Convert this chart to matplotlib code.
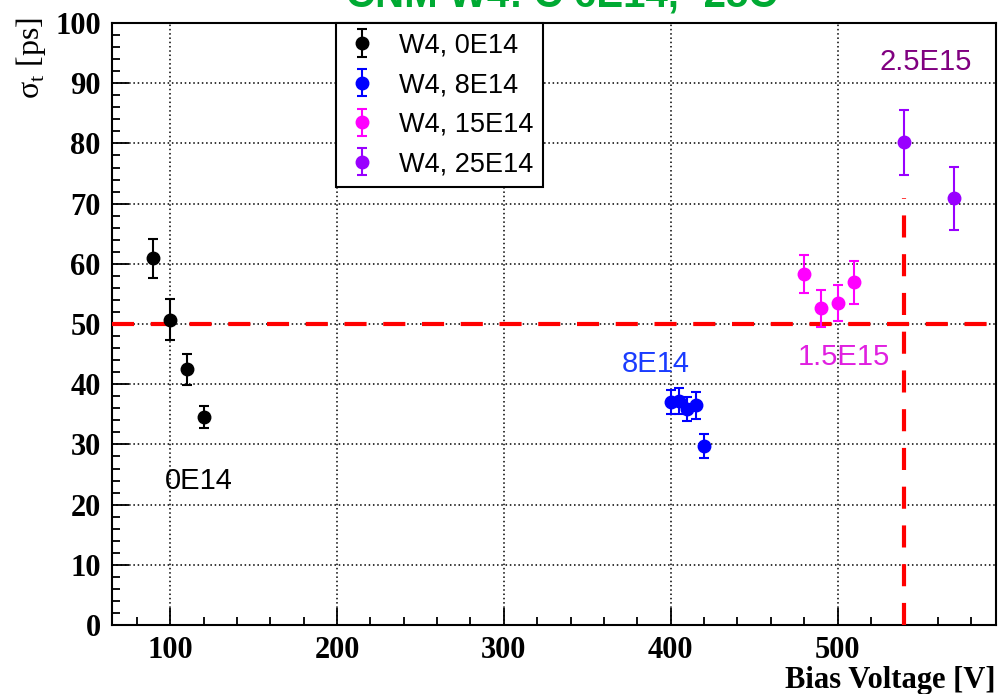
import matplotlib
matplotlib.use("Agg")
import matplotlib.pyplot as plt
from matplotlib.ticker import MultipleLocator

plt.rcParams["mathtext.fontset"] = "custom"
plt.rcParams["mathtext.rm"] = "Liberation Serif"

# Bias voltage scans, time resolution sigma_t with uncertainties
v_0e14 = [90, 100, 110, 120]
s_0e14 = [60.9, 50.7, 42.5, 34.6]
e_0e14 = [3.2, 3.4, 2.6, 1.8]

v_8e14 = [400, 405, 410, 415, 420]
s_8e14 = [37.0, 37.2, 35.9, 36.5, 29.7]
e_8e14 = [2.0, 2.1, 2.0, 2.2, 2.0]

v_15e14 = [480, 490, 500, 510]
s_15e14 = [58.3, 52.6, 53.5, 56.9]
e_15e14 = [3.1, 3.1, 3.0, 3.5]

v_25e14 = [540, 570]
s_25e14 = [80.2, 70.9]
e_25e14 = [5.4, 5.2]

series_labels = ["W4, 0E14", "W4, 8E14", "W4, 15E14", "W4, 25E14"]
series_colors = ["#000000", "#0000ff", "#ff00ff", "#9900ff"]

target_sigma = 50
max_voltage_25e14 = 540
max_voltage_line_top = 71

fig = plt.figure(figsize=(9.98, 6.94), dpi=100)
ax = fig.add_axes([0.112, 0.0994, 0.886, 0.8674])

ax.set_xlim(65, 595)
ax.set_ylim(0, 100)

# dotted grid at major ticks
ax.grid(True, which="major", color="black", linestyle=(0, (1, 1.8)), linewidth=1.1)
ax.set_axisbelow(True)

series = [
    (v_0e14, s_0e14, e_0e14),
    (v_8e14, s_8e14, e_8e14),
    (v_15e14, s_15e14, e_15e14),
    (v_25e14, s_25e14, e_25e14),
]
handles = []
for (v, s, e), lab, col in zip(series, series_labels, series_colors):
    h = ax.errorbar(v, s, yerr=e, fmt="o", color=col, ms=9, elinewidth=1.5,
                    capsize=3.5, capthick=1.5, label=lab, zorder=4)
    handles.append(h)

# reference lines
ax.axhline(target_sigma, color="#ff0000", lw=3, linestyle=(0, (5.3, 4.0)), zorder=3)
ax.plot([max_voltage_25e14, max_voltage_25e14], [0, max_voltage_line_top],
        color="#ff0000", lw=3, linestyle=(0, (5.3, 4.0)), zorder=3)

# fluence annotations
txt_kw = dict(family="Liberation Sans", fontsize=21)
ax.text(97, 24, "0E14", color="black", ha="left", va="center", **txt_kw)
ax.text(391, 43.3, "8E14", color="#1a3cff", ha="center", va="center", **txt_kw)
ax.text(504, 44.5, "1.5E15", color="#e020e0", ha="center", va="center", **txt_kw)
ax.text(553, 93.5, "2.5E15", color="#800080", ha="center", va="center", **txt_kw)

# axis styling
ax.xaxis.set_major_locator(MultipleLocator(100))
ax.xaxis.set_minor_locator(MultipleLocator(20))
ax.yaxis.set_major_locator(MultipleLocator(10))
ax.yaxis.set_minor_locator(MultipleLocator(2))
ax.tick_params(which="both", direction="in", top=False, right=False, width=1.3, colors="black")
ax.tick_params(which="major", length=12, pad=8)
ax.tick_params(which="minor", length=6)
for lab in ax.get_xticklabels() + ax.get_yticklabels():
    lab.set_family("Liberation Serif")
    lab.set_fontweight("bold")
    lab.set_fontsize(22)
for sp in ax.spines.values():
    sp.set_linewidth(1.5)

fig.text(0.997, 0.008, "Bias Voltage [V]", ha="right", va="baseline",
         family="Liberation Serif", fontweight="bold", fontsize=22)
fig.text(0.031, 0.975, r"σ$_{\mathrm{t}}$ [ps]", rotation=90, ha="center", va="top",
         family="Liberation Serif", fontsize=23)

fig.text(0.563, 0.990, "CNM W4: C 6E14, -25C", ha="center", va="baseline",
         family="Liberation Sans", fontweight="bold", fontsize=29, color="#00aa33")

leg = ax.legend(handles=handles, loc="upper left", bbox_to_anchor=(0.2534, 1.0),
                borderaxespad=0, fancybox=False, framealpha=1, edgecolor="black",
                prop={"family": "Liberation Sans", "size": 19.5},
                handlelength=1.2, handletextpad=0.8, labelspacing=0.5,
                borderpad=0.35)
leg.get_frame().set_linewidth(1.5)

fig.savefig("out.png", dpi=100)
